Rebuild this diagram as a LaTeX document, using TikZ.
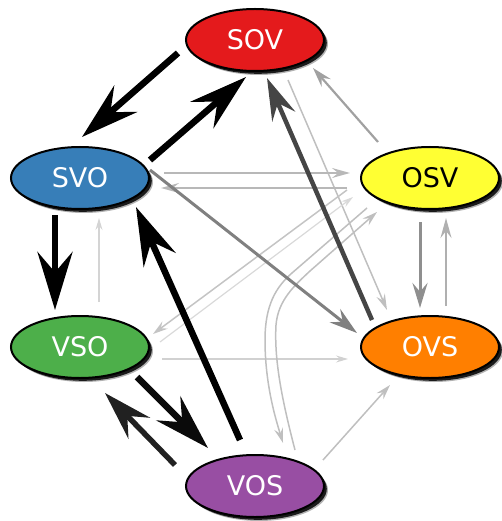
\documentclass[tikz,border=0pt]{standalone}
\usepackage{fontspec}
\setmainfont{DejaVu Sans}
\usetikzlibrary{shapes.geometric,arrows.meta,shadows,backgrounds}
\definecolor{cSOV}{HTML}{E41A1C}
\definecolor{cSVO}{HTML}{377EB8}
\definecolor{cOSV}{HTML}{FFFF33}
\definecolor{cVSO}{HTML}{4DAF4A}
\definecolor{cOVS}{HTML}{FF7F00}
\definecolor{cVOS}{HTML}{984EA3}
\begin{document}
\begin{tikzpicture}[x=1pt,y=-1pt,
  st/.style={ellipse, draw=black, line width=2pt, minimum width=138pt, minimum height=62pt,
    inner sep=0pt, font=\fontsize{27}{27}\selectfont, text=white,
    drop shadow={shadow xshift=4pt, shadow yshift=-4pt, opacity=0.3, fill=black},
    drop shadow={shadow xshift=2.8pt, shadow yshift=-2.8pt, opacity=0.85, fill=black}},
  ed/.style n args={4}{draw=#2, line width=#1, -{Stealth[length=#3, width=#4, inset'=0pt 0.35]}}
]
\useasboundingbox (0,0) rectangle (502,521);
\node[st, fill=cSOV] (SOV) at (255,40) {SOV};
\node[st, fill=cSVO] (SVO) at (80,178) {SVO};
\node[st, fill=cOSV, text=black] (OSV) at (430,178) {OSV};
\node[st, fill=cVSO] (VSO) at (80,347) {VSO};
\node[st, fill=cOVS] (OVS) at (430,347) {OVS};
\node[st, fill=cVOS] (VOS) at (255,486) {VOS};
\begin{scope}[on background layer]
% light edges
\draw[ed={1.5pt}{black!25}{16pt}{9pt}] ([shift={(33,40)}]SOV.center) -- ([shift={(-43,-37)}]OVS.center);
\draw[ed={2pt}{black!28}{18pt}{10pt}] ([shift={(84,-5)}]SVO.center) -- ([shift={(-80,-5)}]OSV.center);
\draw[ed={2pt}{black!28}{18pt}{10pt}] ([shift={(-83,10)}]OSV.center) -- ([shift={(81,10)}]SVO.center);
\draw[ed={1.5pt}{black!23}{15pt}{9pt}] ([shift={(-83,12)}]OSV.center) -- ([shift={(73,-13)}]VSO.center);
\draw[ed={1.2pt}{black!15}{12pt}{7pt}] ([shift={(80,-5)}]VSO.center) -- ([shift={(-77,19)}]OSV.center);
\draw[ed={1.2pt}{black!18}{12pt}{7pt}] ([shift={(82,12)}]VSO.center) -- ([shift={(-82,12)}]OVS.center);
\draw[ed={1.5pt}{black!25}{15pt}{9pt}] ([shift={(68,-26)}]VOS.center) -- ([shift={(-40,38)}]OVS.center);
\draw[ed={1.2pt}{black!17}{12pt}{7pt}] ([shift={(19,-45)}]VSO.center) -- ([shift={(19,40)}]SVO.center);
\draw[ed={1.5pt}{black!25}{15pt}{9pt}] ([shift={(-63,30)}]OSV.center) -- (292,273)
  .. controls (276,287) and (265,305) .. (265,340)
  .. controls (265,385) and (276,420) .. ([shift={(28,-43)}]VOS.center);
\draw[ed={1.5pt}{black!25}{15pt}{9pt}] ([shift={(40,-36)}]VOS.center)
  .. controls (282,400) and (274,360) .. (276,325)
  .. controls (278,300) and (295,285) .. (310,271) -- ([shift={(-53,34)}]OSV.center);
% medium edges
\draw[ed={2pt}{black!31}{20pt}{11pt}] ([shift={(16,-41)}]OVS.center) -- ([shift={(16,40)}]OSV.center);
\draw[ed={2.2pt}{black!37}{20pt}{12pt}] ([shift={(-52,-36)}]OSV.center) -- ([shift={(58,28)}]SOV.center);
\draw[ed={3pt}{black!44}{25pt}{15pt}] ([shift={(-10,44)}]OSV.center) -- ([shift={(-10,-39)}]OVS.center);
\draw[ed={3pt}{black!50}{28pt}{17pt}] ([shift={(70,-8)}]SVO.center) -- ([shift={(-73,-14)}]OVS.center);
% heavy edges
\draw[ed={4.5pt}{black!73}{42pt}{25pt}] ([shift={(-58,-27)}]OVS.center) -- ([shift={(12,38)}]SOV.center);
\draw[ed={5.5pt}{black!87}{49pt}{30pt}] ([shift={(-80,-21)}]VOS.center) -- ([shift={(25,46)}]VSO.center);
\draw[ed={6.5pt}{black!96}{56pt}{34pt}] ([shift={(57,30)}]VSO.center) -- ([shift={(-47,-38)}]VOS.center);
\draw[ed={6.5pt}{black}{58pt}{35pt}] ([shift={(-15,-46)}]VOS.center) -- ([shift={(56,29)}]SVO.center);
\draw[ed={6.5pt}{black}{58pt}{35pt}] ([shift={(-77,13)}]SOV.center) -- ([shift={(2,-41)}]SVO.center);
\draw[ed={6.5pt}{black}{58pt}{35pt}] ([shift={(70,-18)}]SVO.center) -- ([shift={(-9,37)}]SOV.center);
\draw[ed={6.5pt}{black}{58pt}{35pt}] ([shift={(-25,37)}]SVO.center) -- ([shift={(-25,-37)}]VSO.center);
\end{scope}
\end{tikzpicture}
\end{document}
